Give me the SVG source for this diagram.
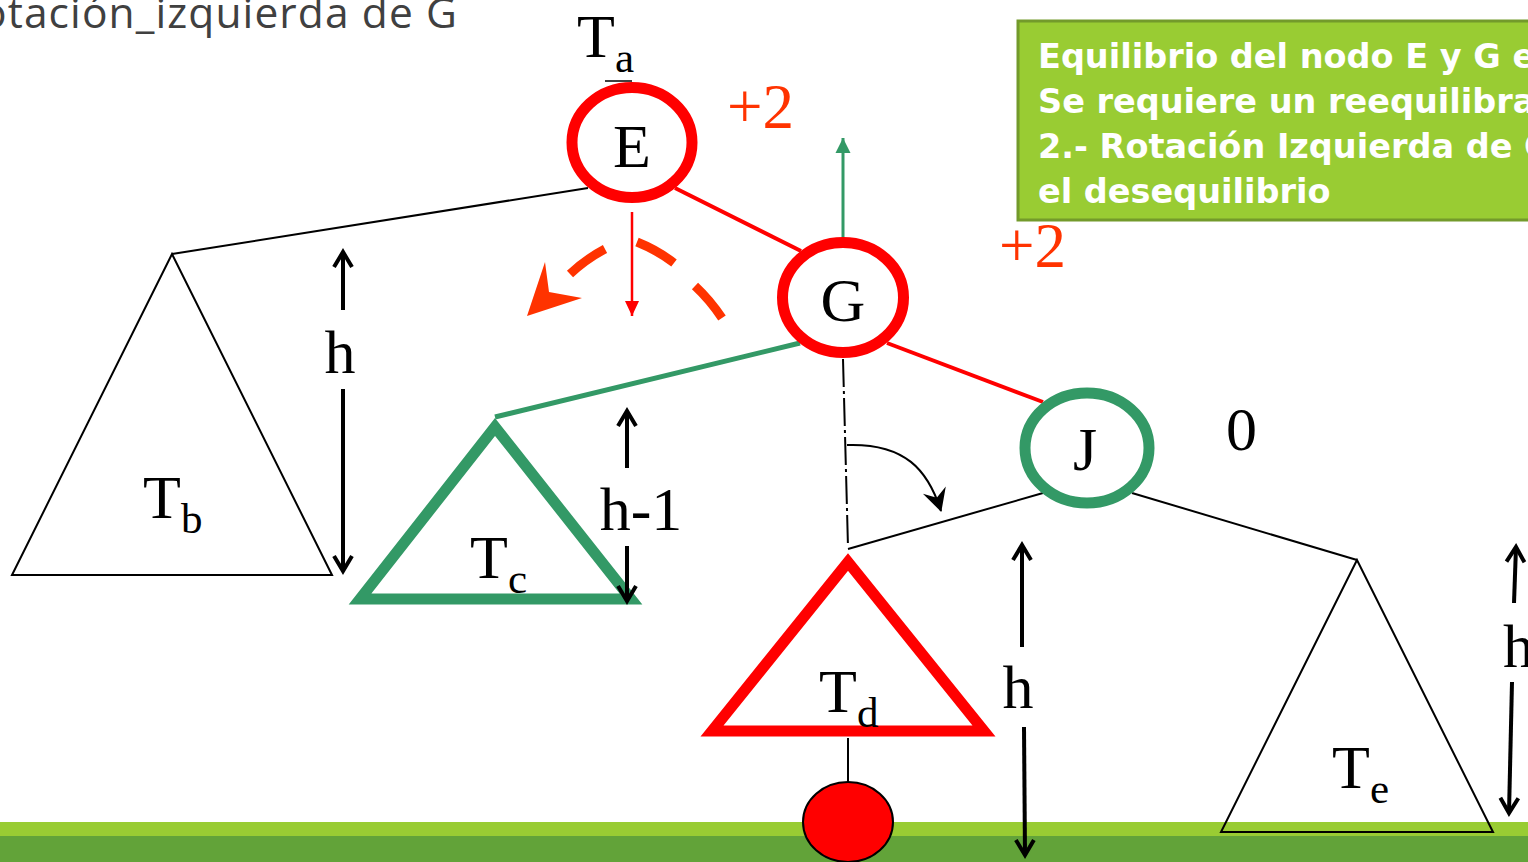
<svg xmlns="http://www.w3.org/2000/svg" width="1528" height="862" viewBox="0 0 1528 862">
<style>
.serif{font-family:"Liberation Serif","Times New Roman",serif;font-size:62px;fill:#000}
.sub{font-size:43px}
.bal{font-family:"Liberation Serif","Times New Roman",serif;font-size:63px;fill:#ff3300}
.thin{stroke:#000;stroke-width:2;fill:none}
.harrow{stroke:#000;stroke-width:4;fill:none}
.box{font-family:"DejaVu Sans",Verdana,sans-serif;font-weight:bold;font-size:33.5px;fill:#fff}
</style>
<defs>
<marker id="vh" markerUnits="userSpaceOnUse" markerWidth="30" markerHeight="30" viewBox="-20 -15 30 30" refX="0" refY="0" orient="auto">
<path d="M-15,-9 L0,0 L-15,9" fill="none" stroke="#000" stroke-width="4"/>
</marker>
<marker id="redh" markerUnits="userSpaceOnUse" markerWidth="20" markerHeight="20" viewBox="-16 -10 20 20" refX="0" refY="0" orient="auto">
<path d="M-15,-7 L0,0 L-15,7 z" fill="#ff0000"/>
</marker>
<marker id="grnh" markerUnits="userSpaceOnUse" markerWidth="20" markerHeight="20" viewBox="-16 -10 20 20" refX="0" refY="0" orient="auto">
<path d="M-15,-7.5 L0,0 L-15,7.5 z" fill="#339966"/>
</marker>
<marker id="curh" markerUnits="userSpaceOnUse" markerWidth="30" markerHeight="30" viewBox="-25 -15 30 30" refX="0" refY="0" orient="auto">
<path d="M1,0 L-22,-12 L-14,0 L-22,12 z" fill="#000"/>
</marker>
</defs>
<rect x="0" y="0" width="1528" height="862" fill="#fff"/>

<g id="ground">
<rect x="0" y="822" width="1528" height="14" fill="#99cc33"/>
<rect x="0" y="836" width="1528" height="26" fill="#62a339"/>
</g>

<text id="title" x="458" y="28" text-anchor="end" font-family="'Open Sans','Noto Sans',sans-serif" font-size="42.5" letter-spacing="1.1" fill="#404040">Rotación_izquierda de G</text>

<g id="note">
<rect x="1018" y="21" width="530" height="199" fill="#99cc33" stroke="#739a2b" stroke-width="3"/>
<text class="box" x="1038" y="68">Equilibrio del nodo E y G es</text>
<text class="box" x="1038" y="113">Se requiere un reequilibra</text>
<text class="box" x="1038" y="158">2.- Rotación Izquierda de G</text>
<text class="box" x="1038" y="203">el desequilibrio</text>
</g>

<g id="connectors">
<line class="thin" x1="588" y1="188" x2="172" y2="254"/>
<line x1="675" y1="188" x2="801" y2="251" stroke="#ff0000" stroke-width="4"/>
<line x1="800" y1="343" x2="495" y2="417" stroke="#339966" stroke-width="5"/>
<line x1="887" y1="343" x2="1043" y2="402" stroke="#ff0000" stroke-width="4"/>
<line class="thin" x1="1043" y1="493" x2="848" y2="549"/>
<line class="thin" x1="1132" y1="493" x2="1357" y2="560"/>
<line x1="843" y1="359" x2="848" y2="547" stroke="#000" stroke-width="2" stroke-dasharray="28,4,3,4"/>
<line class="thin" x1="848" y1="738" x2="848" y2="783"/>
<path d="M847,445 C905,443 928,470 941,511" class="thin" stroke-width="2.5" marker-end="url(#curh)"/>
<line x1="632" y1="212" x2="632" y2="316" stroke="#ff0000" stroke-width="2.5" marker-end="url(#redh)"/>
<line x1="843" y1="240" x2="843" y2="138" stroke="#339966" stroke-width="3" marker-end="url(#grnh)"/>
</g>

<g id="rotation">
<path d="M570,274 Q586,259 605,249 M637,242 Q657,250 674,263 M695,286 Q710,300 722,318" fill="none" stroke="#ff3300" stroke-width="9"/>
<polygon points="527,316 545,262 549,292 582,298" fill="#ff3300"/>
</g>

<g id="Tb">
<polygon points="172,254 12,575 332,575" fill="none" stroke="#000" stroke-width="2"/>
<text class="serif" x="143" y="518">T<tspan class="sub" dy="15">b</tspan></text>
</g>
<g id="Tc">
<polygon points="495,427 360,599 631,599" fill="none" stroke="#339966" stroke-width="11"/>
<text class="serif" x="470" y="578">T<tspan class="sub" dy="15">c</tspan></text>
</g>
<g id="Td">
<polygon points="848,562 712,731 984,731" fill="none" stroke="#ff0000" stroke-width="11"/>
<text class="serif" x="819" y="712">T<tspan class="sub" dy="15">d</tspan></text>
</g>
<g id="Te">
<polygon points="1357,560 1221,832 1493,832" fill="none" stroke="#000" stroke-width="2"/>
<text class="serif" x="1332" y="788">T<tspan class="sub" dy="15">e</tspan></text>
</g>

<g id="heights">
<line class="harrow" x1="343" y1="310" x2="343" y2="252" marker-end="url(#vh)"/>
<line class="harrow" x1="343" y1="389" x2="343" y2="571" marker-end="url(#vh)"/>
<text class="serif" x="340" y="373" text-anchor="middle">h</text>
<line class="harrow" x1="627" y1="468" x2="627" y2="411" marker-end="url(#vh)"/>
<line class="harrow" x1="627" y1="546" x2="627" y2="601" marker-end="url(#vh)"/>
<text class="serif" x="641" y="530" text-anchor="middle">h-1</text>
<line class="harrow" x1="1022" y1="647" x2="1022" y2="545" marker-end="url(#vh)"/>
<line class="harrow" x1="1024" y1="727" x2="1025" y2="855" marker-end="url(#vh)"/>
<text class="serif" x="1018" y="708" text-anchor="middle">h</text>
<line class="harrow" x1="1514" y1="603" x2="1516" y2="547" marker-end="url(#vh)"/>
<line class="harrow" x1="1512" y1="682" x2="1509" y2="813" marker-end="url(#vh)"/>
<text class="serif" x="1503" y="667">h</text>
</g>

<g id="Ta">
<text class="serif" x="577" y="57">T<tspan class="sub" dy="15">a</tspan></text>
<line x1="605" y1="81" x2="632" y2="81" stroke="#000" stroke-width="1.5"/>
</g>

<g id="E">
<ellipse cx="632" cy="142.5" rx="60" ry="55" fill="#fff" stroke="#ff0000" stroke-width="11"/>
<text class="serif" x="632" y="167" text-anchor="middle">E</text>
<text class="bal" x="727" y="128">+2</text>
</g>
<g id="G">
<ellipse cx="843" cy="297.5" rx="60.5" ry="55" fill="#fff" stroke="#ff0000" stroke-width="11"/>
<text class="serif" x="843" y="321" text-anchor="middle">G</text>
<text class="bal" x="999" y="267">+2</text>
</g>
<g id="J">
<ellipse cx="1087" cy="448" rx="62" ry="55" fill="#fff" stroke="#339966" stroke-width="11"/>
<text class="serif" x="1085" y="470" text-anchor="middle">J</text>
<text class="serif" x="1226" y="450">0</text>
</g>
<g id="leaf">
<ellipse cx="848" cy="822" rx="45" ry="40" fill="#ff0000" stroke="#000" stroke-width="2"/>
</g>
</svg>
